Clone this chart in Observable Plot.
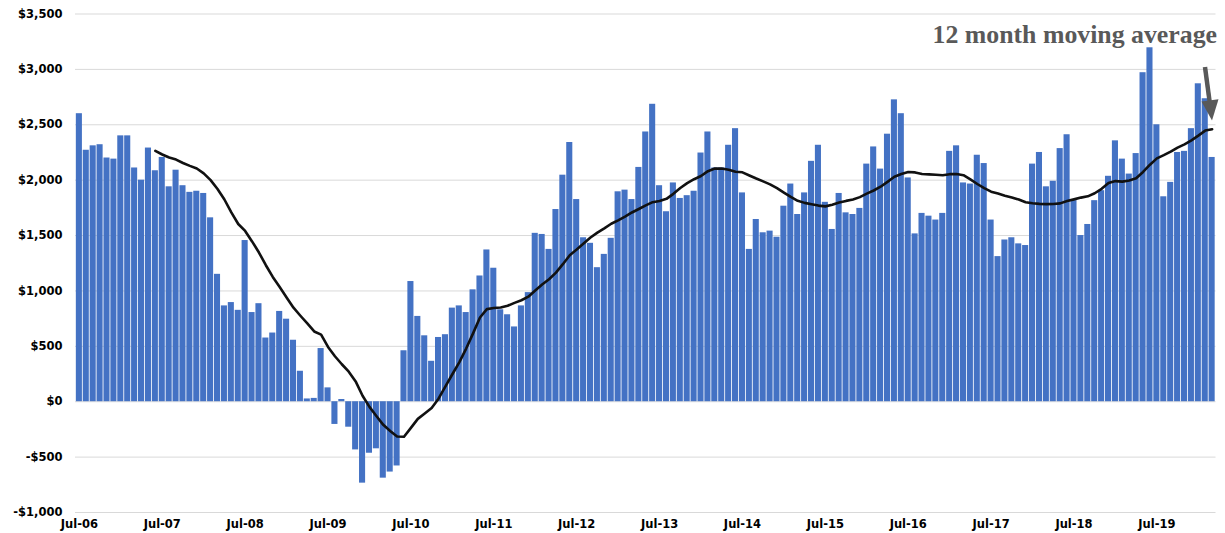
<!DOCTYPE html>
<html>
<head>
<meta charset="utf-8">
<script src="https://cdn.jsdelivr.net/npm/d3@7"></script>
<script src="https://cdn.jsdelivr.net/npm/@observablehq/plot@0.6"></script>
<style>
  html, body { margin: 0; padding: 0; background: #fff; }
  #chart { position: relative; width: 1225px; height: 533px; }
</style>
</head>
<body>
<div id="chart"></div>
<script>
// Monthly categories: Jul-06 .. Mar-20
const months = d3.utcMonth
  .range(new Date(Date.UTC(2006, 6, 1)), new Date(Date.UTC(2020, 3, 1)))
  .map(d3.utcFormat("%b-%y"));

// Monthly values, one row per Jul..Jun year
const values = [
  2600, 2270, 2310, 2320, 2200, 2190, 2400, 2400, 2110, 2000, 2290, 2085,
  2205, 1940, 2090, 1950, 1890, 1900, 1880, 1660, 1150, 865, 895, 825,
  1455, 805, 885, 575, 620, 815, 745, 555, 275, 25, 30, 480,
  125, -205, 20, -230, -435, -735, -465, -425, -690, -635, -580, 460,
  1085, 770, 595, 365, 580, 605, 845, 865, 805, 1010, 1135, 1370,
  1205, 830, 785, 675, 865, 985, 1520, 1510, 1375, 1735, 2045, 2340,
  1825, 1480, 1430, 1210, 1330, 1475, 1895, 1910, 1825, 2115, 2435, 2685,
  1950, 1715, 1975, 1835, 1860, 1900, 2245, 2435, 2110, 2110, 2315, 2465,
  1885, 1375, 1645, 1525, 1540, 1485, 1765, 1965, 1690, 1885, 2170, 2315,
  1800, 1555, 1880, 1705, 1690, 1745, 2145, 2300, 2100, 2415, 2725, 2600,
  2020, 1515, 1700, 1675, 1640, 1700, 2260, 2310, 1975, 1965, 2225, 2150,
  1640, 1310, 1460, 1480, 1425, 1410, 2145, 2250, 1940, 1990, 2285, 2410,
  1815, 1500, 1600, 1815, 1905, 2035, 2355, 2190, 2055, 2240, 2970, 3195,
  2500, 1850, 1980, 2250, 2260, 2465, 2870, 2735, 2205
];

const xTickLabels = ["Jul-06", "Jul-07", "Jul-08", "Jul-09", "Jul-10", "Jul-11", "Jul-12",
                     "Jul-13", "Jul-14", "Jul-15", "Jul-16", "Jul-17", "Jul-18", "Jul-19"];
const yTicks = [-1000, -500, 0, 500, 1000, 1500, 2000, 2500, 3000, 3500];
const annotation = "12 month moving average";
const windowMonths = 12;

const data = months.map((m, i) => ({month: m, value: values[i]}));
const fmtDollar = v => (v < 0 ? "-" : "") + "$" + d3.format(",")(Math.abs(v));

const chart = Plot.plot({
  width: 1225,
  height: 533,
  marginLeft: 75,
  marginRight: 9.5,
  marginTop: 13.5,
  marginBottom: 21,
  style: {
    fontFamily: "'DejaVu Sans', sans-serif",
    fontSize: "11.5px",
    fontWeight: "bold",
    color: "#000",
    background: "#fff"
  },
  x: {
    type: "band",
    domain: months,
    padding: 0.12,
    ticks: xTickLabels,
    tickSize: 0,
    tickPadding: 7.5,
    label: null
  },
  y: {
    domain: [-1000, 3500],
    ticks: yTicks,
    tickFormat: fmtDollar,
    tickSize: 0,
    tickPadding: 13,
    label: null
  },
  marks: [
    Plot.ruleY(yTicks, {stroke: "#d9d9d9", strokeWidth: 1}),
    Plot.barY(data, {x: "month", y: "value", fill: "#4472C4"}),
    Plot.lineY(data, Plot.windowY(
      {k: windowMonths, anchor: "end", reduce: "mean", strict: true},
      {x: "month", y: "value", stroke: "#111", strokeWidth: 2.6, strokeLinejoin: "round"}
    )),
    Plot.text([annotation], {
      frameAnchor: "top-right",
      textAnchor: "end",
      lineAnchor: "bottom",
      dx: 1,
      dy: 28.5,
      fontFamily: "'Liberation Serif', serif",
      fontWeight: "bold",
      fontSize: 25.8,
      fill: "#595959"
    })
  ]
});

// Annotation arrow pointing at the moving-average line
const svg = d3.select(chart);
svg.append("line")
  .attr("x1", 1205).attr("y1", 67)
  .attr("x2", 1209.8).attr("y2", 103)
  .attr("stroke", "#595959").attr("stroke-width", 4.5);
svg.append("polygon")
  .attr("points", "1201.5,101.5 1218.5,99.2 1212,120.5")
  .attr("fill", "#595959");

document.getElementById("chart").appendChild(chart);
</script>
</body>
</html>
